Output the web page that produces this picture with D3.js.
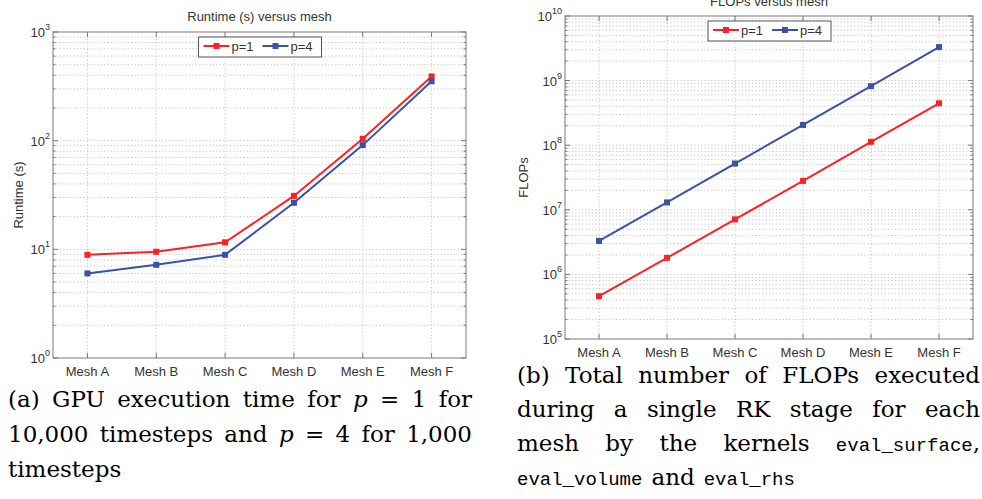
<!DOCTYPE html>
<html>
<head>
<meta charset="utf-8">
<script src="https://cdn.jsdelivr.net/npm/d3@7"></script>
<style>
  body { margin: 0; background: #fff; }
  svg { display: block; }
  .tick-lbl { font-family: "Liberation Sans", Arial, sans-serif; font-size: 13px; fill: #333; }
  .cap { font-family: "DejaVu Serif", serif; font-size: 23px; fill: #000; }
  .it { font-style: italic; }
  .tt { font-family: "Liberation Mono", "DejaVu Sans Mono", monospace; font-size: 19px; }
</style>
</head>
<body>
<script>
// data
const meshes = ["Mesh A", "Mesh B", "Mesh C", "Mesh D", "Mesh E", "Mesh F"];
const runtimeP1 = [8.9, 9.5, 11.6, 31, 104, 390];
const runtimeP4 = [6.0, 7.2, 8.9, 26.8, 91, 352];
const flopsP1 = [4.6e5, 1.8e6, 7.1e6, 2.8e7, 1.13e8, 4.45e8];
const flopsP4 = [3.3e6, 1.3e7, 5.2e7, 2.06e8, 8.2e8, 3.3e9];
const runtimeTicks = [1, 10, 100, 1000];
const flopsTicks = [1e5, 1e6, 1e7, 1e8, 1e9, 1e10];
const seriesNames = ["p=1", "p=4"];
const colors = ["#ff2121", "#3a52a6"];

const W = 982, H = 499;
const svg = d3.select("body").append("svg")
  .attr("width", W)
  .attr("height", H);

function drawPanel(o) {
  const g = svg.append("g");
  const x = d3.scalePoint().domain(meshes).range([o.left, o.right]).padding(0.5);
  const y = d3.scaleLog().domain([o.ticks[0], o.ticks[o.ticks.length - 1]]).range([o.bottom, o.top]);

  // minor + major grid, dotted
  const minor = [];
  o.ticks.slice(0, -1).forEach(t => { for (let k = 2; k < 10; k++) minor.push(t * k); });
  g.selectAll(".gy").data(minor.concat(o.ticks.slice(1, -1))).enter().append("line")
    .attr("x1", o.left).attr("x2", o.right)
    .attr("y1", d => y(d)).attr("y2", d => y(d))
    .attr("stroke", "#c4c4c4").attr("stroke-dasharray", "1.2,2.2");
  g.selectAll(".gx").data(meshes).enter().append("line")
    .attr("x1", d => x(d)).attr("x2", d => x(d))
    .attr("y1", o.top).attr("y2", o.bottom)
    .attr("stroke", "#c4c4c4").attr("stroke-dasharray", "1.2,2.2");

  // tick marks pointing inwards on all four sides
  const tk = g.append("g").attr("stroke", "#777");
  o.ticks.forEach(t => {
    tk.append("line").attr("x1", o.left).attr("x2", o.left + 5).attr("y1", y(t)).attr("y2", y(t));
    tk.append("line").attr("x1", o.right).attr("x2", o.right - 5).attr("y1", y(t)).attr("y2", y(t));
  });
  minor.forEach(t => {
    tk.append("line").attr("x1", o.left).attr("x2", o.left + 2.5).attr("y1", y(t)).attr("y2", y(t));
    tk.append("line").attr("x1", o.right).attr("x2", o.right - 2.5).attr("y1", y(t)).attr("y2", y(t));
  });
  meshes.forEach(m => {
    tk.append("line").attr("x1", x(m)).attr("x2", x(m)).attr("y1", o.bottom).attr("y2", o.bottom - 5);
    tk.append("line").attr("x1", x(m)).attr("x2", x(m)).attr("y1", o.top).attr("y2", o.top + 5);
  });

  g.append("rect")
    .attr("x", o.left).attr("y", o.top)
    .attr("width", o.right - o.left).attr("height", o.bottom - o.top)
    .attr("fill", "none").attr("stroke", "#7a7a7a");

  // y tick labels as 10^n
  o.ticks.forEach(t => {
    const lbl = g.append("text").attr("class", "tick-lbl")
      .attr("x", o.left - 3).attr("y", y(t) + 5).attr("text-anchor", "end");
    lbl.append("tspan").text("10");
    lbl.append("tspan").attr("dy", -7).attr("font-size", 9).text(Math.round(Math.log10(t)));
  });

  g.selectAll(".xl").data(meshes).enter().append("text")
    .attr("class", "tick-lbl")
    .attr("x", d => x(d)).attr("y", o.bottom + 18)
    .attr("text-anchor", "middle")
    .text(d => d);

  g.append("text").attr("class", "tick-lbl")
    .attr("x", (o.left + o.right) / 2).attr("y", Math.max(o.top - 11, 6))
    .attr("text-anchor", "middle")
    .text(o.title);

  g.append("text").attr("class", "tick-lbl")
    .attr("transform", `translate(${o.ylabX},${(o.top + o.bottom) / 2}) rotate(-90)`)
    .attr("text-anchor", "middle")
    .text(o.ylabel);

  const line = d3.line().x((d, i) => x(meshes[i])).y(d => y(d));
  o.series.forEach((s, k) => {
    g.append("path").datum(s)
      .attr("d", line)
      .attr("fill", "none")
      .attr("stroke", colors[k])
      .attr("stroke-width", 2);
    g.selectAll(null).data(s).enter().append("rect")
      .attr("x", (d, i) => x(meshes[i]) - 3)
      .attr("y", d => y(d) - 3)
      .attr("width", 6).attr("height", 6)
      .attr("fill", colors[k]);
  });

  // legend, centred at the top of the axes
  const cx = (o.left + o.right) / 2;
  const lg = g.append("g").attr("transform", `translate(${cx - 61},${o.top + 5})`);
  lg.append("rect").attr("width", 123).attr("height", 20)
    .attr("fill", "#fff").attr("stroke", "#555");
  seriesNames.forEach((n, k) => {
    const ox = 5 + k * 59;
    lg.append("line").attr("x1", ox).attr("x2", ox + 26).attr("y1", 9).attr("y2", 9)
      .attr("stroke", colors[k]).attr("stroke-width", 2);
    lg.append("rect").attr("x", ox + 10).attr("y", 6).attr("width", 6).attr("height", 6)
      .attr("fill", colors[k]);
    lg.append("text").attr("class", "tick-lbl")
      .attr("x", ox + 28).attr("y", 14).text(n);
  });
}

drawPanel({
  left: 53, right: 466, top: 32, bottom: 358,
  ticks: runtimeTicks, series: [runtimeP1, runtimeP4],
  title: "Runtime (s) versus mesh", ylabel: "Runtime (s)", ylabX: 23
});
drawPanel({
  left: 565, right: 973, top: 16, bottom: 339,
  ticks: flopsTicks, series: [flopsP1, flopsP4],
  title: "FLOPs versus mesh", ylabel: "FLOPs", ylabX: 528
});

// captions, justified word by word like LaTeX
function captionLine(words, x0, x1, yb, justify) {
  const nodes = words.map(w => {
    const t = svg.append("text").attr("class", "cap").attr("y", yb);
    w.forEach(r => t.append("tspan").attr("class", r[1] || null).text(r[0]));
    return t;
  });
  const widths = nodes.map(n => n.node().getComputedTextLength());
  const gap = justify && words.length > 1
    ? (x1 - x0 - d3.sum(widths)) / (words.length - 1) : 9;
  let cur = x0;
  nodes.forEach((n, i) => { n.attr("x", cur); cur += widths[i] + gap; });
}

const w = s => s.split(" ").map(t => [[t]]);
captionLine([...w("(a) GPU execution time for"), [["p", "it"]], [["="]], [["1"]], [["for"]]], 8, 472, 407, true);
captionLine([...w("10,000 timesteps and"), [["p", "it"]], [["="]], [["4"]], ...w("for 1,000")], 8, 472, 442, true);
captionLine(w("timesteps"), 8, 472, 477, false);

captionLine(w("(b) Total number of FLOPs executed"), 517, 980, 383, true);
captionLine(w("during a single RK stage for each"), 517, 980, 417, true);
captionLine([...w("mesh by the kernels"), [["eval_surface", "tt"], [","]]], 517, 980, 451, true);
captionLine([[["eval_volume", "tt"]], [["and"]], [["eval_rhs", "tt"]]], 517, 980, 485, false);
</script>
</body>
</html>
